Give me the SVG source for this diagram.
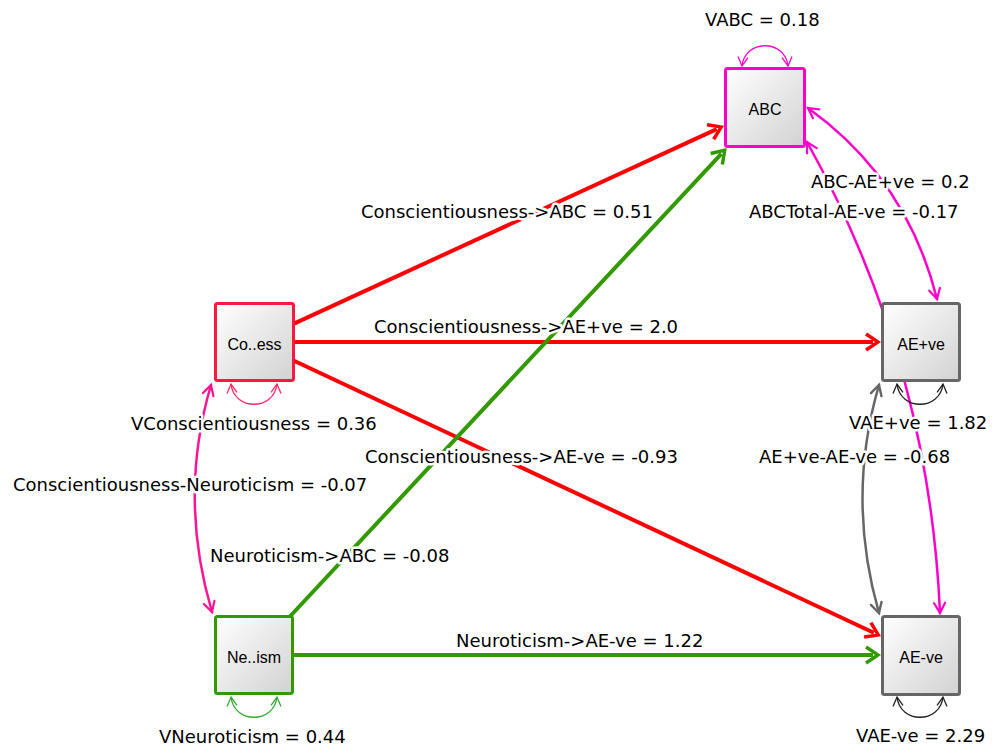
<svg xmlns="http://www.w3.org/2000/svg" width="1005" height="747" viewBox="0 0 1005 747">
<style>
.node rect{stroke-width:3;fill:url(#g)}
.nt{font-family:"Liberation Sans",Arial,sans-serif;font-size:16px;text-anchor:middle;fill:#000}
.lbl{font-family:"DejaVu Sans",Verdana,sans-serif;font-size:18px;fill:#000;stroke:#fff;stroke-width:5;stroke-linejoin:round;paint-order:stroke}
.e{fill:none}
.thick{stroke-width:4}
.cov{stroke-width:2.5;stroke-linecap:round}
.loop{stroke-width:1.3}
</style>
<defs>
<linearGradient id="g" x1="0" y1="0" x2="1" y2="1">
<stop offset="0" stop-color="#ffffff"/>
<stop offset="1" stop-color="#d2d2d2"/>
</linearGradient>
<marker id="hRed" markerUnits="userSpaceOnUse" viewBox="-10 -12 20 24" markerWidth="20" markerHeight="24" refX="0" refY="0" orient="auto" overflow="visible">
<path d="M8,0 L-6,-9.5 L-8,-6.5 L2,0 L-8,6.5 L-6,9.5 Z" fill="#ff0000"/>
</marker>
<marker id="hGreen" markerUnits="userSpaceOnUse" viewBox="-10 -12 20 24" markerWidth="20" markerHeight="24" refX="0" refY="0" orient="auto" overflow="visible">
<path d="M8,0 L-6,-9.5 L-8,-6.5 L2,0 L-8,6.5 L-6,9.5 Z" fill="#339900"/>
</marker>
<marker id="vMag" markerUnits="userSpaceOnUse" viewBox="-12 -8 14 16" markerWidth="14" markerHeight="16" refX="0" refY="0" orient="auto-start-reverse" overflow="visible">
<path d="M-10,-5.5 L0,0 L-10,5.5" fill="none" stroke="#ff00cc" stroke-width="2.2" stroke-linecap="round"/>
</marker>
<marker id="vPink" markerUnits="userSpaceOnUse" viewBox="-12 -8 14 16" markerWidth="14" markerHeight="16" refX="0" refY="0" orient="auto-start-reverse" overflow="visible">
<path d="M-10,-5.5 L0,0 L-10,5.5" fill="none" stroke="#ff1493" stroke-width="2.2" stroke-linecap="round"/>
</marker>
<marker id="vGray" markerUnits="userSpaceOnUse" viewBox="-12 -8 14 16" markerWidth="14" markerHeight="16" refX="0" refY="0" orient="auto-start-reverse" overflow="visible">
<path d="M-10,-5.5 L0,0 L-10,5.5" fill="none" stroke="#666666" stroke-width="2.4" stroke-linecap="round"/>
</marker>
<marker id="lMag" markerUnits="userSpaceOnUse" viewBox="-12 -8 14 16" markerWidth="14" markerHeight="16" refX="0" refY="0" orient="auto-start-reverse" overflow="visible">
<path d="M-9,-5 L0,0 L-9,5" fill="none" stroke="#ff00cc" stroke-width="1.3"/>
</marker>
<marker id="lRose" markerUnits="userSpaceOnUse" viewBox="-12 -8 14 16" markerWidth="14" markerHeight="16" refX="0" refY="0" orient="auto-start-reverse" overflow="visible">
<path d="M-9,-5 L0,0 L-9,5" fill="none" stroke="#ff2a6a" stroke-width="1.3"/>
</marker>
<marker id="lGreen" markerUnits="userSpaceOnUse" viewBox="-12 -8 14 16" markerWidth="14" markerHeight="16" refX="0" refY="0" orient="auto-start-reverse" overflow="visible">
<path d="M-9,-5 L0,0 L-9,5" fill="none" stroke="#33aa33" stroke-width="1.3"/>
</marker>
<marker id="lBlack" markerUnits="userSpaceOnUse" viewBox="-12 -8 14 16" markerWidth="14" markerHeight="16" refX="0" refY="0" orient="auto-start-reverse" overflow="visible">
<path d="M-9,-5 L0,0 L-9,5" fill="none" stroke="#222222" stroke-width="1.3"/>
</marker>
</defs>
<rect width="1005" height="747" fill="#ffffff"/>
<g id="connectors">
<path class="e thick" stroke="#ff0000" d="M294,323.6 L716.7,129.1" marker-end="url(#hRed)"/>
<path class="e thick" stroke="#ff0000" d="M294,342 L873,342" marker-end="url(#hRed)"/>
<path class="e thick" stroke="#ff0000" d="M294,360.8 L873.8,632.8" marker-end="url(#hRed)"/>
<path class="e thick" stroke="#339900" d="M290.4,616 L721.3,153.9" marker-end="url(#hGreen)"/>
<path class="e thick" stroke="#339900" d="M293,655 L873,655" marker-end="url(#hGreen)"/>
<path class="e cov" stroke="#ff00cc" d="M808,108 Q907,179 937,299" marker-start="url(#vMag)" marker-end="url(#vMag)"/>
<path class="e cov" stroke="#ff00cc" d="M807,142 Q929,361 940,613" marker-start="url(#vMag)" marker-end="url(#vMag)"/>
<path class="e cov" stroke="#666666" stroke-width="3" d="M879,385 Q846,498 879,613" marker-start="url(#vGray)" marker-end="url(#vGray)"/>
<path class="e cov" stroke="#ff1493" d="M211,385 Q178,497 212,612" marker-start="url(#vPink)" marker-end="url(#vPink)"/>
<path class="e loop" stroke="#ff00cc" d="M742,66 C745,39 785,39 788,66" marker-start="url(#lMag)" marker-end="url(#lMag)"/>
<path class="e loop" stroke="#ff2a6a" d="M231,384 C234,411 274,411 277,384" marker-start="url(#lRose)" marker-end="url(#lRose)"/>
<path class="e loop" stroke="#222222" d="M897,384 C900,411 940,411 943,384" marker-start="url(#lBlack)" marker-end="url(#lBlack)"/>
<path class="e loop" stroke="#222222" d="M897,697 C900,724 940,724 943,697" marker-start="url(#lBlack)" marker-end="url(#lBlack)"/>
<path class="e loop" stroke="#33aa33" d="M231,697 C234,724 274,724 277,697" marker-start="url(#lGreen)" marker-end="url(#lGreen)"/>
</g>
<g id="node-ABC" class="node"><rect x="725.5" y="68.5" width="79" height="78" rx="2" stroke="#ff00cc"/><text class="nt" x="765" y="115">ABC</text></g>
<g id="node-Conscientiousness" class="node"><rect x="215.5" y="303.5" width="78" height="77" rx="2" stroke="#ff1744"/><text class="nt" x="254.5" y="350">Co..ess</text></g>
<g id="node-AEpos" class="node"><rect x="882.5" y="303.5" width="77" height="77" rx="2" stroke="#666666"/><text class="nt" x="921" y="350">AE+ve</text></g>
<g id="node-AEneg" class="node"><rect x="882.5" y="616.5" width="77" height="78" rx="2" stroke="#666666"/><text class="nt" x="921" y="663">AE-ve</text></g>
<g id="node-Neuroticism" class="node"><rect x="215.5" y="616.5" width="77" height="77" rx="2" stroke="#339900"/><text class="nt" x="254" y="663">Ne..ism</text></g>
<g id="labels">
<text class="lbl" x="705" y="26">VABC = 0.18</text>
<text class="lbl" x="361" y="218">Conscientiousness-&gt;ABC = 0.51</text>
<text class="lbl" x="374" y="333">Conscientiousness-&gt;AE+ve = 2.0</text>
<text class="lbl" x="811" y="188">ABC-AE+ve = 0.2</text>
<text class="lbl" x="749" y="218">ABCTotal-AE-ve = -0.17</text>
<text class="lbl" x="131" y="430">VConscientiousness = 0.36</text>
<text class="lbl" x="365" y="463">Conscientiousness-&gt;AE-ve = -0.93</text>
<text class="lbl" x="13" y="491">Conscientiousness-Neuroticism = -0.07</text>
<text class="lbl" x="210" y="562">Neuroticism-&gt;ABC = -0.08</text>
<text class="lbl" x="456" y="647">Neuroticism-&gt;AE-ve = 1.22</text>
<text class="lbl" x="849" y="429">VAE+ve = 1.82</text>
<text class="lbl" x="759" y="463">AE+ve-AE-ve = -0.68</text>
<text class="lbl" x="159" y="743">VNeuroticism = 0.44</text>
<text class="lbl" x="856" y="742">VAE-ve = 2.29</text>
</g>
</svg>
